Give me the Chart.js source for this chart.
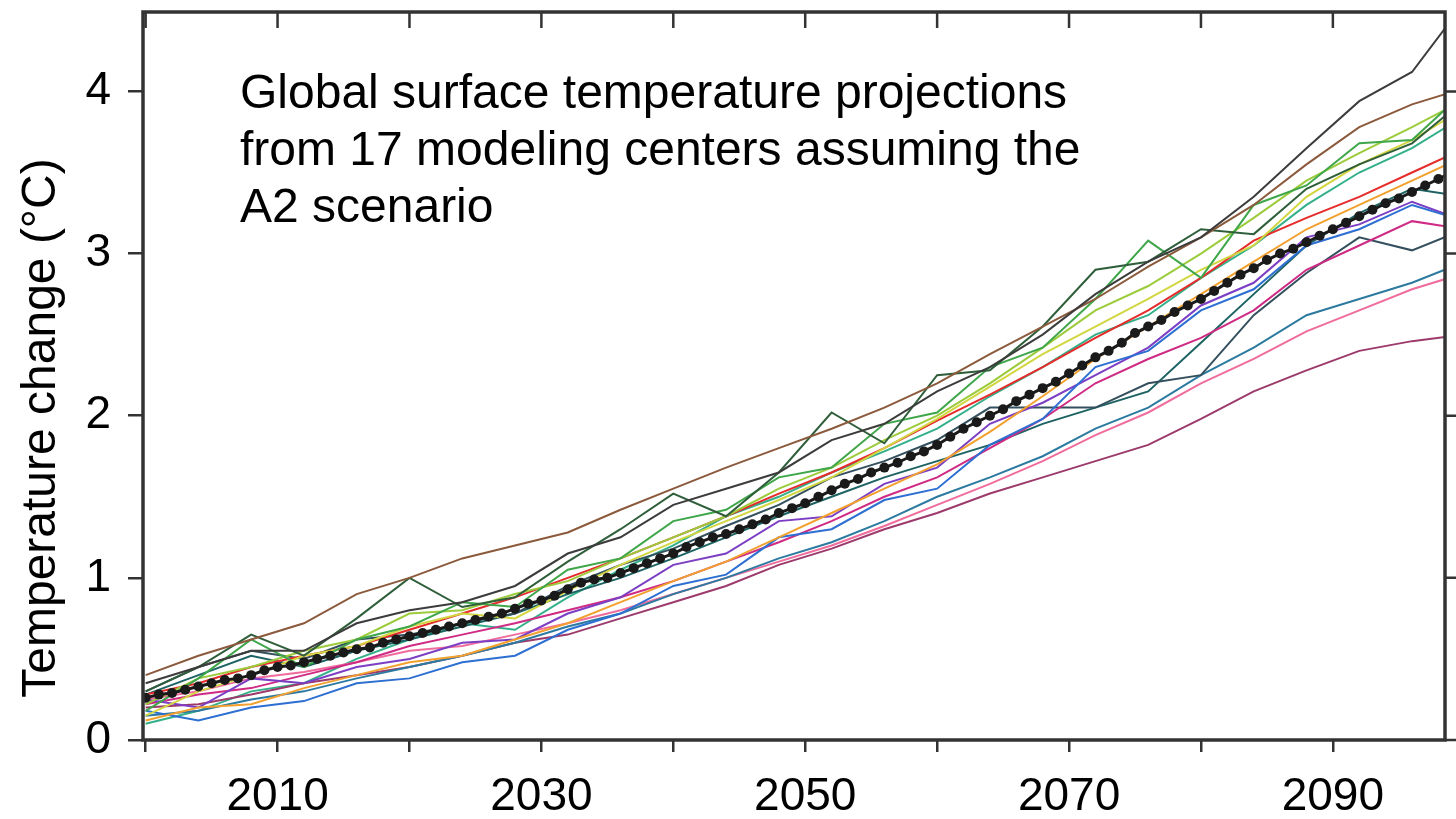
<!DOCTYPE html>
<html lang="en">
<head>
    <meta charset="UTF-8">
    <title>Global surface temperature projections</title>
    <script src="https://cdn.jsdelivr.net/npm/chart.js"></script>
    <style>
        body { margin: 0; background: #fff; }
        #wrap { width: 1456px; height: 819px; }
    </style>
</head>
<body>
    <div id="wrap"><canvas id="myChart"></canvas></div>

    <script>
        // model years (every 4 years) and ensemble-mean years (annual)
        const modelYears = [2000, 2004, 2008, 2012, 2016, 2020, 2024, 2028, 2032, 2036, 2040, 2044, 2048,
                            2052, 2056, 2060, 2064, 2068, 2072, 2076, 2080, 2084, 2088, 2092, 2096, 2100];
        const meanStartYear = 2000;

        const darkGray  = [0.35, 0.45, 0.55, 0.55, 0.72, 0.80, 0.85, 0.95, 1.15, 1.25, 1.45, 1.55, 1.65, 1.85, 1.95, 2.15, 2.30, 2.50, 2.75, 2.95, 3.10, 3.35, 3.65, 3.94, 4.12, 4.55];
        const brown     = [0.40, 0.52, 0.62, 0.72, 0.90, 1.00, 1.12, 1.20, 1.28, 1.42, 1.55, 1.68, 1.80, 1.92, 2.05, 2.20, 2.38, 2.55, 2.72, 2.92, 3.10, 3.30, 3.55, 3.78, 3.92, 4.02];
        const darkGreen = [0.30, 0.45, 0.65, 0.52, 0.75, 1.00, 0.82, 0.88, 1.10, 1.30, 1.52, 1.38, 1.65, 2.02, 1.83, 2.25, 2.28, 2.55, 2.90, 2.95, 3.15, 3.12, 3.40, 3.55, 3.68, 3.95];
        const green     = [0.18, 0.38, 0.62, 0.45, 0.62, 0.70, 0.85, 0.82, 1.05, 1.12, 1.35, 1.42, 1.62, 1.68, 1.95, 2.02, 2.30, 2.42, 2.72, 3.08, 2.85, 3.30, 3.42, 3.68, 3.70, 4.00];
        const yellowGrn = [0.22, 0.38, 0.45, 0.55, 0.62, 0.78, 0.80, 0.90, 0.98, 1.12, 1.25, 1.38, 1.55, 1.68, 1.85, 2.00, 2.20, 2.42, 2.65, 2.80, 3.00, 3.22, 3.45, 3.62, 3.78, 3.95];
        const yellow    = [0.15, 0.30, 0.40, 0.52, 0.58, 0.70, 0.78, 0.75, 0.92, 1.08, 1.22, 1.35, 1.48, 1.62, 1.80, 1.98, 2.18, 2.38, 2.55, 2.72, 2.90, 3.05, 3.35, 3.55, 3.70, 3.90];
        const red       = [0.28, 0.35, 0.45, 0.52, 0.58, 0.68, 0.78, 0.88, 1.00, 1.12, 1.25, 1.38, 1.52, 1.65, 1.80, 1.97, 2.13, 2.30, 2.48, 2.65, 2.85, 3.08, 3.22, 3.35, 3.50, 3.65];
        const orange    = [0.12, 0.20, 0.22, 0.32, 0.40, 0.48, 0.52, 0.62, 0.72, 0.85, 0.98, 1.10, 1.25, 1.40, 1.55, 1.70, 1.90, 2.12, 2.35, 2.55, 2.75, 2.95, 3.15, 3.30, 3.45, 3.60];
        const blue      = [0.18, 0.12, 0.20, 0.24, 0.35, 0.38, 0.48, 0.52, 0.68, 0.78, 0.95, 1.02, 1.25, 1.30, 1.48, 1.55, 1.82, 1.98, 2.30, 2.40, 2.65, 2.78, 3.05, 3.15, 3.30, 3.20];
        const purple    = [0.25, 0.20, 0.38, 0.35, 0.45, 0.50, 0.60, 0.62, 0.78, 0.88, 1.08, 1.15, 1.35, 1.38, 1.58, 1.68, 1.95, 2.08, 2.25, 2.42, 2.68, 2.82, 3.10, 3.18, 3.32, 3.20];
        const magenta   = [0.22, 0.28, 0.32, 0.40, 0.48, 0.58, 0.65, 0.72, 0.80, 0.88, 0.98, 1.10, 1.22, 1.35, 1.50, 1.62, 1.80, 1.98, 2.20, 2.35, 2.48, 2.65, 2.90, 3.05, 3.20, 3.15];
        const slate     = [0.30, 0.45, 0.55, 0.50, 0.62, 0.65, 0.72, 0.78, 0.95, 1.08, 1.18, 1.32, 1.45, 1.62, 1.72, 1.85, 2.05, 2.05, 2.05, 2.20, 2.25, 2.62, 2.88, 3.10, 3.02, 3.15];
        const darkTeal  = [0.28, 0.40, 0.52, 0.45, 0.55, 0.62, 0.70, 0.78, 0.90, 1.00, 1.12, 1.25, 1.38, 1.50, 1.62, 1.72, 1.82, 1.95, 2.05, 2.15, 2.45, 2.75, 3.05, 3.25, 3.40, 3.35];
        const tealBlue  = [0.15, 0.18, 0.25, 0.30, 0.38, 0.45, 0.52, 0.60, 0.70, 0.78, 0.90, 1.00, 1.12, 1.22, 1.35, 1.50, 1.62, 1.75, 1.92, 2.05, 2.25, 2.42, 2.62, 2.72, 2.82, 2.95];
        const pink      = [0.25, 0.30, 0.38, 0.42, 0.48, 0.55, 0.58, 0.65, 0.72, 0.80, 0.90, 1.00, 1.10, 1.20, 1.32, 1.45, 1.58, 1.72, 1.88, 2.02, 2.20, 2.35, 2.52, 2.65, 2.78, 2.88];
        const plum      = [0.20, 0.22, 0.28, 0.35, 0.40, 0.45, 0.52, 0.60, 0.65, 0.75, 0.85, 0.95, 1.08, 1.18, 1.30, 1.40, 1.52, 1.62, 1.72, 1.82, 1.98, 2.15, 2.28, 2.40, 2.46, 2.50];
        const tealGreen = [0.10, 0.18, 0.30, 0.35, 0.50, 0.62, 0.72, 0.68, 0.88, 1.05, 1.20, 1.38, 1.50, 1.65, 1.78, 1.92, 2.12, 2.30, 2.50, 2.62, 2.85, 3.05, 3.30, 3.50, 3.65, 3.85];

        // ensemble mean, 2000-2099
        const ensembleMean = [
            0.26, 0.28, 0.29, 0.31, 0.33, 0.35, 0.37, 0.38, 0.40, 0.43,
            0.45, 0.46, 0.48, 0.50, 0.52, 0.54, 0.56, 0.57, 0.60, 0.62,
            0.64, 0.66, 0.68, 0.70, 0.72, 0.74, 0.76, 0.78, 0.81, 0.84,
            0.86, 0.89, 0.93, 0.97, 0.99, 1.00, 1.03, 1.06, 1.09, 1.12,
            1.15, 1.19, 1.22, 1.25, 1.27, 1.30, 1.33, 1.36, 1.40, 1.43,
            1.46, 1.50, 1.54, 1.58, 1.61, 1.65, 1.68, 1.71, 1.75, 1.78,
            1.82, 1.87, 1.92, 1.96, 2.00, 2.04, 2.09, 2.13, 2.17, 2.21,
            2.26, 2.31, 2.36, 2.40, 2.45, 2.51, 2.55, 2.59, 2.64, 2.68,
            2.72, 2.77, 2.82, 2.87, 2.91, 2.96, 3.00, 3.03, 3.07, 3.11,
            3.15, 3.19, 3.23, 3.27, 3.31, 3.34, 3.38, 3.42, 3.46, 3.50
        ];

        const models = [
            ['darkGray', darkGray, '#3c3c3c'],
            ['brown', brown, '#8b5a3c'],
            ['darkGreen', darkGreen, '#2f5e3a'],
            ['green', green, '#3fa64a'],
            ['yellowGreen', yellowGrn, '#9ccb3b'],
            ['yellow', yellow, '#d2d641'],
            ['red', red, '#e62b2b'],
            ['orange', orange, '#f2a02e'],
            ['blue', blue, '#2e6fd2'],
            ['purple', purple, '#7c3fc4'],
            ['magenta', magenta, '#cf2a84'],
            ['slate', slate, '#34505e'],
            ['darkTeal', darkTeal, '#1e6363'],
            ['tealBlue', tealBlue, '#2c7aa0'],
            ['pink', pink, '#f06c9c'],
            ['plum', plum, '#9c3a6c'],
            ['tealGreen', tealGreen, '#33b08a']
        ];

        const yTicks = [0, 1, 2, 3, 4];
        const xTicks = [2000, 2010, 2020, 2030, 2040, 2050, 2060, 2070, 2080, 2090];
        const xLabels = [2010, 2030, 2050, 2070, 2090];
        const yTitle = 'Temperature change (°C)';
        const noteLines = [
            'Global surface temperature projections',
            'from 17 modeling centers assuming the',
            'A2 scenario'
        ];

        const FONT = '"Liberation Sans", Arial, sans-serif';
        const AXIS = '#333333';

        const datasets = models.map(([name, vals, color]) => ({
            label: name,
            data: vals.map((v, i) => ({ x: modelYears[i], y: v })),
            borderColor: color,
            borderWidth: 2,
            pointRadius: 0,
            tension: 0,
            order: 1
        }));
        datasets.push({
            label: 'mean',
            data: ensembleMean.map((v, i) => ({ x: meanStartYear + i, y: v })),
            borderColor: '#1a1a1a',
            backgroundColor: '#1a1a1a',
            borderWidth: 3,
            pointRadius: 5,
            pointBorderWidth: 0,
            tension: 0,
            order: 0
        });

        // frame, top/right ticks, axis title and the note text
        const frame = {
            id: 'frame',
            afterDraw(chart) {
                const { ctx, chartArea: { left, right, top, bottom }, scales: { x, y } } = chart;
                ctx.save();
                ctx.strokeStyle = AXIS;
                ctx.lineWidth = 3.5;
                ctx.strokeRect(left, top, right - left, bottom - top);
                ctx.lineWidth = 2.5;
                ctx.beginPath();
                xTicks.forEach(v => {
                    const px = x.getPixelForValue(v);
                    ctx.moveTo(px, top);
                    ctx.lineTo(px, top + 16);
                });
                yTicks.forEach(v => {
                    const py = y.getPixelForValue(v);
                    ctx.moveTo(right, py);
                    ctx.lineTo(right + 12, py);
                });
                ctx.stroke();

                ctx.fillStyle = '#000';
                ctx.font = '48px ' + FONT;
                ctx.textBaseline = 'alphabetic';
                noteLines.forEach((t, i) => ctx.fillText(t, 240, 108 + i * 57));

                // y axis title, a little below the middle as in the original
                ctx.translate(42, 428);
                ctx.rotate(-Math.PI / 2);
                ctx.textAlign = 'center';
                ctx.textBaseline = 'middle';
                ctx.fillText(yTitle, 0, 0);
                ctx.restore();
            }
        };

        new Chart(document.getElementById('myChart'), {
            type: 'line',
            data: { datasets },
            plugins: [frame],
            options: {
                responsive: true,
                maintainAspectRatio: false,
                animation: false,
                layout: { padding: { top: 12, right: 11, left: 0, bottom: 0 } },
                plugins: {
                    legend: { display: false },
                    tooltip: { enabled: false }
                },
                scales: {
                    x: {
                        type: 'linear',
                        min: 1999.8,
                        max: 2098.5,
                        afterFit: s => { s.height = 79; s.paddingLeft = 0; s.paddingRight = 0; },
                        afterBuildTicks: s => { s.ticks = xTicks.map(v => ({ value: v })); },
                        border: { display: false },
                        grid: { drawOnChartArea: false, drawTicks: true, tickLength: 12, color: AXIS, lineWidth: 2.5 },
                        ticks: {
                            autoSkip: false,
                            maxRotation: 0,
                            padding: 18,
                            color: '#000',
                            font: { family: FONT, size: 46 },
                            callback: v => xLabels.includes(v) ? String(v) : ''
                        }
                    },
                    y: {
                        type: 'linear',
                        min: 0,
                        max: 4.49,
                        afterFit: s => { s.width = 143; s.paddingTop = 0; s.paddingBottom = 0; },
                        afterBuildTicks: s => { s.ticks = yTicks.map(v => ({ value: v })); },
                        border: { display: false },
                        grid: { drawOnChartArea: false, drawTicks: true, tickLength: 15, color: AXIS, lineWidth: 2.5 },
                        ticks: {
                            padding: 17,
                            color: '#000',
                            font: { family: FONT, size: 46 },
                            callback: v => String(v)
                        }
                    }
                }
            }
        });
    </script>
</body>
</html>
